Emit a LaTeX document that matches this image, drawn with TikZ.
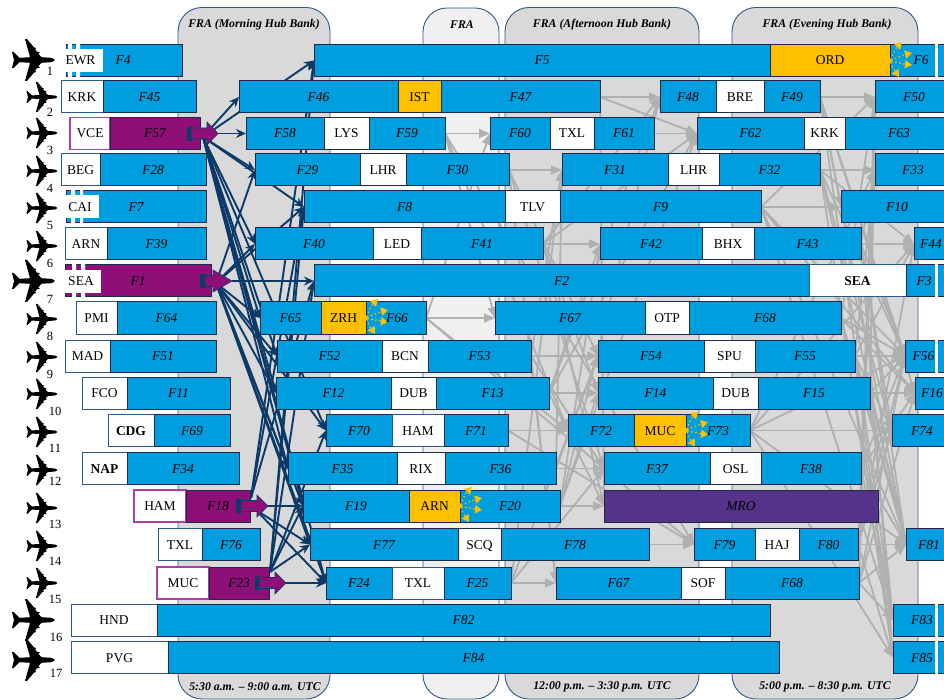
\documentclass[tikz,border=0pt]{standalone}
\usepackage{fontspec}
\setmainfont{Liberation Serif}
\usetikzlibrary{arrows.meta}
\definecolor{cblue}{HTML}{009EDF}
\definecolor{cedge}{HTML}{1B2A49}
\definecolor{cpurp}{HTML}{8F0F78}
\definecolor{cpedge}{HTML}{AD3E9E}
\definecolor{corng}{HTML}{FFC000}
\definecolor{cmro}{HTML}{55338B}
\definecolor{cnavy}{HTML}{0B3A68}
\definecolor{cband}{HTML}{D9D9D9}
\definecolor{cmid}{HTML}{F0F0F0}
\definecolor{cbedge}{HTML}{2F5A86}
\definecolor{cgrey}{HTML}{B0B0B0}
\pgfdeclarelayer{bands}
\pgfdeclarelayer{lines}
\pgfdeclarelayer{front}
\pgfdeclarelayer{toplab}
\pgfsetlayers{bands,lines,main,front,toplab}
\tikzset{
  x=1pt,y=-1pt,
  boxbase/.style={rectangle,inner sep=0pt,outer sep=0pt,minimum height=32pt,line width=1pt,
    font=\fontsize{13.5}{15}\selectfont,text height=9pt,text depth=0pt},
  bl/.style={boxbase,draw=cedge,fill=cblue,font=\fontsize{13.5}{15}\selectfont\itshape},
  wh/.style={boxbase,draw=cedge,fill=white},
  wo/.style={boxbase,draw=cbedge,fill=white},
  wp/.style={boxbase,draw=cpedge,fill=white,line width=1.2pt},
  pu/.style={bl,fill=cpurp},
  og/.style={boxbase,draw=cedge,fill=corng},
  mr/.style={bl,fill=cmro},
  lab/.style={inner sep=0pt,outer sep=0pt,font=\fontsize{13.5}{15}\selectfont,text height=9pt,text depth=0pt},
  ilab/.style={lab,font=\fontsize{13.5}{15}\selectfont\itshape},
  bandbox/.style={draw=cbedge,line width=0.9pt,rounded corners=24pt},
  bandtxt/.style={inner sep=0pt,font=\fontsize{11.8}{13}\selectfont\bfseries\itshape},
  numt/.style={inner sep=0pt,font=\fontsize{12.5}{14}\selectfont},
  nv/.style={draw=cnavy,line width=1.9pt,-{Stealth[length=10pt,width=9pt]}},
  gy/.style={draw=cgrey,line width=1.8pt,-{Triangle[length=11pt,width=9pt]}},
  burstl/.style={draw=corng,line width=1.9pt,line cap=round,dash pattern=on 0pt off 4pt,-{Triangle[length=7pt,width=8pt]}}
}
\newcommand\seg[6]{%
  \pgfmathsetmacro\wdd{#4-#3}\pgfmathsetmacro\cxx{(#3+#4)/2}%
  \node[#1,minimum width=\wdd pt] (#2) at (\cxx,#5) {#6};}
\newcommand\gap[1]{\fill[white] (935,#1-17.5) rectangle (938,#1+17.5);}
\newcommand\planeat[3]{%
  \fill[black,shift={(#1,#2)},scale=#3]
   (21.5,0) .. controls (20,-2) and (18,-2.4) .. (14,-2.4) -- (8,-2.8) -- (4.6,-6.6) -- (6,-7) -- (6,-8) -- (3.8,-8) -- (1.4,-11) -- (2.4,-11.4) -- (2.4,-12.4) -- (0.6,-12.4)
   -- (-6.5,-21) -- (-8.5,-21) -- (-3.5,-2.8) -- (-14,-2.2) -- (-20,-8) -- (-21.5,-8) -- (-19.5,0)
   -- (-21.5,8) -- (-20,8) -- (-14,2.2) -- (-3.5,2.8) -- (-8.5,21) -- (-6.5,21) -- (0.6,12.4) -- (2.4,12.4) -- (2.4,11.4) -- (1.4,11) -- (3.8,8) -- (6,8) -- (6,7) -- (4.6,6.6) -- (8,2.8)
   -- (14,2.4) .. controls (18,2.4) and (20,2) .. (21.5,0) -- cycle;}
\newcommand\burst[2]{%
  \draw[burstl,shift={(#1,#2)}] (1,-2) .. controls (3,-8) and (6,-13) .. (12,-19);
  \draw[burstl,shift={(#1,#2)}] (2,-1) .. controls (7,-3) and (13,-6) .. (22,-8);
  \draw[burstl,shift={(#1,#2)}] (2,1) .. controls (7,1) and (13,3) .. (22,4);
  \draw[burstl,shift={(#1,#2)}] (1,2) .. controls (2,6) and (5,10) .. (9,16);
  \fill[corng,shift={(#1,#2)}] (0,0) circle (2pt);}
\newcommand\blockarrow[6]{% dark-start, body-start, head-start, tip, y, half-head
  \fill[cnavy,draw=cnavy] (#1,#5-6.5) rectangle (#2,#5+6.5);
  \fill[cpurp,draw=cnavy,line width=0.6pt] (#2,#5-5.5) -- (#3,#5-5.5) -- (#3,#5-#6) -- (#4,#5) -- (#3,#5+#6) -- (#3,#5+5.5) -- (#2,#5+5.5) -- cycle;}
\begin{document}
\begin{tikzpicture}
\useasboundingbox (0,0) rectangle (944,700);
% bands
\begin{pgfonlayer}{bands}
\fill[white] (0,0) rectangle (944,700);
\draw[bandbox,fill=cband] (178,7.5) rectangle (330,699);
\draw[bandbox,fill=cmid]  (423,8) rectangle (499,699);
\draw[bandbox,fill=cband] (505,7.5) rectangle (699,699);
\draw[bandbox,fill=cband] (732,7.5) rectangle (918,699);
\end{pgfonlayer}
\node[bandtxt] (h1) at (254,24.5) {FRA (Morning Hub Bank)};
\node[bandtxt] (h2) at (462,24.5) {FRA};
\node[bandtxt] (h3) at (602,24.5) {FRA (Afternoon Hub Bank)};
\node[bandtxt] (h4) at (827,24.5) {FRA (Evening Hub Bank)};
\node[bandtxt] (b1) at (255,687) {5:30 a.m. – 9:00 a.m. UTC};
\node[bandtxt] (b3) at (602,687) {12:00 p.m. – 3:30 p.m. UTC};
\node[bandtxt] (b4) at (825,687) {5:00 p.m. – 8:30 p.m. UTC};
% planes
\planeat{33.5}{60}{1}\planeat{42}{97}{.72}\planeat{42}{133}{.72}\planeat{42}{171}{.72}\planeat{42}{208}{.72}
\planeat{42}{246}{.72}\planeat{33.5}{281}{1}\planeat{42}{319}{.72}\planeat{42}{357}{.72}\planeat{42}{394}{.72}
\planeat{42}{432}{.72}\planeat{42}{470}{.72}\planeat{42}{508}{.72}\planeat{42}{546}{.72}\planeat{42}{583}{.72}
\planeat{33.5}{620}{1}\planeat{33.5}{660}{1}
\foreach \n/\xx/\yy in {1/50/71,2/50/112,3/50/150,4/50/188,5/50/225,6/50/263,7/50/299,8/50/336,9/50/374,10/55/411,11/55/448,12/55/481,13/55/524,14/55/561,15/55/599,16/56/637,17/56/673}
  \node[numt] (n\n) at (\xx,\yy) {\n};
% row 1
\seg{bl}{F4}{66}{182}{60.5}{}
\fill[white] (68,43) rectangle (72,77) (76,43) rectangle (80,77);
\fill[white] (65,49) rectangle (103,72);
\node[lab] (EWR) at (80.5,60.5) {EWR};
\node[ilab] (F4t) at (123,60.5) {F4};
\seg{bl}{F5}{314}{770}{60.5}{F5}
\seg{og}{ORD}{770}{890}{60.5}{ORD}
\seg{bl}{F6}{890}{944}{60.5}{}
\gap{60.5}
% row 2
\seg{wo}{KRKa}{61}{103}{97}{KRK}
\seg{bl}{F45}{103}{196}{97}{F45}
\seg{bl}{F46}{239}{398}{97}{F46}
\seg{og}{IST}{398}{441}{97}{IST}
\seg{bl}{F47}{441}{600}{97}{F47}
\seg{bl}{F48}{660}{716}{97}{F48}
\seg{wh}{BRE}{716}{764}{97}{BRE}
\seg{bl}{F49}{764}{820}{97}{F49}
\seg{bl}{F50}{875}{944}{97}{}
\node[ilab] (F50t) at (914,97) {F50};
% row 3
\seg{wp}{VCE}{70}{110}{133.5}{VCE}
\seg{pu}{F57}{110}{200}{133.5}{F57}
\seg{bl}{F58}{246}{324}{133.5}{F58}
\seg{wh}{LYS}{324}{369}{133.5}{LYS}
\seg{bl}{F59}{369}{445}{133.5}{F59}
\seg{bl}{F60}{490}{550}{133.5}{F60}
\seg{wh}{TXLa}{550}{594}{133.5}{TXL}
\seg{bl}{F61}{594}{654}{133.5}{F61}
\seg{bl}{F62}{697}{804}{133.5}{F62}
\seg{wh}{KRKb}{804}{845}{133.5}{KRK}
\seg{bl}{F63}{845}{944}{133.5}{}
\node[ilab] (F63t) at (899,133.5) {F63};
% row 4
\seg{wo}{BEG}{61}{100}{170}{BEG}
\seg{bl}{F28}{100}{206}{170}{F28}
\seg{bl}{F29}{255}{360}{170}{F29}
\seg{wh}{LHRa}{360}{406}{170}{LHR}
\seg{bl}{F30}{406}{509}{170}{F30}
\seg{bl}{F31}{562}{668}{170}{F31}
\seg{wh}{LHRb}{668}{719}{170}{LHR}
\seg{bl}{F32}{719}{820}{170}{F32}
\seg{bl}{F33}{875}{944}{170}{}
\node[ilab] (F33t) at (913,170) {F33};
% row 5
\seg{bl}{F7}{66}{206}{207}{}
\fill[white] (71,190) rectangle (75,224) (80,190) rectangle (83,224);
\fill[white] (65,195) rectangle (99,218);
\node[lab] (CAI) at (80,207) {CAI};
\node[ilab] (F7t) at (136,207) {F7};
\seg{bl}{F8}{304}{505}{207}{F8}
\seg{wh}{TLV}{505}{560}{207}{TLV}
\seg{bl}{F9}{560}{761}{207}{F9}
\seg{bl}{F10}{841}{944}{207}{}
\node[ilab] (F10t) at (897,207) {F10};
% row 6
\seg{wo}{ARNa}{65}{107}{244}{ARN}
\seg{bl}{F39}{107}{206}{244}{F39}
\seg{bl}{F40}{255}{373}{244}{F40}
\seg{wh}{LED}{373}{421}{244}{LED}
\seg{bl}{F41}{421}{543}{244}{F41}
\seg{bl}{F42}{600}{702}{244}{F42}
\seg{wh}{BHX}{702}{754}{244}{BHX}
\seg{bl}{F43}{754}{861}{244}{F43}
\seg{bl}{F44}{914}{944}{244}{}
\node[ilab] (F44t) at (931,244) {F44};
% row 7
\seg{pu}{F1}{65}{211}{281}{}
\fill[white] (72,264) rectangle (76,298) (81,264) rectangle (85,298);
\fill[white] (64,270) rectangle (101,293);
\node[lab] (SEAa) at (81,281) {SEA};
\node[ilab] (F1t) at (138,281) {F1};
\seg{bl}{F2}{314}{809}{281}{F2}
\node[boxbase,draw=cbedge,fill=white,minimum width=97pt,font=\fontsize{13.5}{15}\selectfont\bfseries] (SEAb) at (857.5,281) {SEA};
\seg{bl}{F3}{906}{944}{281}{}
\gap{281}
\node[ilab] (F3t) at (924,281) {F3};
% row 8
\seg{wo}{PMI}{76}{117}{318}{PMI}
\seg{bl}{F64}{117}{216}{318}{F64}
\seg{bl}{F65}{260}{321}{318}{F65}
\seg{og}{ZRH}{321}{366}{318}{ZRH}
\seg{bl}{F66}{366}{426}{318}{}
\seg{bl}{F67}{495}{645}{318}{F67}
\seg{wh}{OTP}{645}{689}{318}{OTP}
\seg{bl}{F68}{689}{841}{318}{F68}
% row 9
\seg{wo}{MAD}{65}{110}{356}{MAD}
\seg{bl}{F51}{110}{216}{356}{F51}
\seg{bl}{F52}{277}{382}{356}{F52}
\seg{wh}{BCN}{382}{428}{356}{BCN}
\seg{bl}{F53}{428}{531}{356}{F53}
\seg{bl}{F54}{598}{704}{356}{F54}
\seg{wh}{SPU}{704}{755}{356}{SPU}
\seg{bl}{F55}{755}{855}{356}{F55}
\seg{bl}{F56}{905}{944}{356}{}
\gap{356}
\node[ilab] (F56t) at (923.5,356) {F56};
% row 10
\seg{wo}{FCO}{82}{127}{393}{FCO}
\seg{bl}{F11}{127}{230}{393}{F11}
\seg{bl}{F12}{276}{391}{393}{F12}
\seg{wh}{DUBa}{391}{436}{393}{DUB}
\seg{bl}{F13}{436}{549}{393}{F13}
\seg{bl}{F14}{598}{713}{393}{F14}
\seg{wh}{DUBb}{713}{758}{393}{DUB}
\seg{bl}{F15}{758}{870}{393}{F15}
\seg{bl}{F16}{915}{944}{393}{}
\node[ilab] (F16t) at (932,393) {F16};
% row 11
\node[boxbase,draw=cbedge,fill=white,minimum width=46pt,font=\fontsize{13.5}{15}\selectfont\bfseries] (CDG) at (131,430.5) {CDG};
\seg{bl}{F69}{154}{230}{430.5}{F69}
\seg{bl}{F70}{326}{392}{430.5}{F70}
\seg{wo}{HAMa}{392}{444}{430.5}{HAM}
\seg{bl}{F71}{444}{508}{430.5}{F71}
\seg{bl}{F72}{568}{634}{430.5}{F72}
\seg{og}{MUCa}{634}{686}{430.5}{MUC}
\seg{bl}{F73}{686}{750}{430.5}{}
\seg{bl}{F74}{892}{944}{430.5}{}
\node[ilab] (F74t) at (922,430.5) {F74};
% row 12
\node[boxbase,draw=cbedge,fill=white,minimum width=45pt,font=\fontsize{13.5}{15}\selectfont\bfseries] (NAP) at (104.5,468.5) {NAP};
\seg{bl}{F34}{127}{239}{468.5}{F34}
\seg{bl}{F35}{288}{397}{468.5}{F35}
\seg{wh}{RIX}{397}{445}{468.5}{RIX}
\seg{bl}{F36}{445}{556}{468.5}{F36}
\seg{bl}{F37}{604}{710}{468.5}{F37}
\seg{wh}{OSL}{710}{761}{468.5}{OSL}
\seg{bl}{F38}{761}{861}{468.5}{F38}
% row 13
\seg{wp}{HAMb}{134}{186}{506}{HAM}
\seg{pu}{F18}{186}{250}{506}{F18}
\seg{bl}{F19}{303}{409}{506}{F19}
\seg{og}{ARNb}{409}{460}{506}{ARN}
\seg{bl}{F20}{460}{560}{506}{F20}
\seg{mr}{MRO}{604}{878}{506}{MRO}
% row 14
\seg{wo}{TXLb}{158}{202}{544.5}{TXL}
\seg{bl}{F76}{202}{260}{544.5}{F76}
\seg{bl}{F77}{310}{458}{544.5}{F77}
\seg{wh}{SCQ}{458}{501}{544.5}{SCQ}
\seg{bl}{F78}{501}{649}{544.5}{F78}
\seg{bl}{F79}{694}{755}{544.5}{F79}
\seg{wh}{HAJ}{755}{799}{544.5}{HAJ}
\seg{bl}{F80}{799}{858}{544.5}{F80}
\seg{bl}{F81}{906}{944}{544.5}{}
\node[ilab] (F81t) at (929,544.5) {F81};
% row 15
\seg{wp}{MUCb}{157}{209}{583}{MUC}
\seg{pu}{F23}{209}{269}{583}{F23}
\seg{bl}{F24}{326}{392}{583}{F24}
\seg{wo}{TXLc}{392}{444}{583}{TXL}
\seg{bl}{F25}{444}{511}{583}{F25}
\seg{bl}{F67b}{556}{681}{583}{F67}
\seg{wh}{SOF}{681}{725}{583}{SOF}
\seg{bl}{F68b}{725}{859}{583}{F68}
% row 16
\seg{wo}{HND}{71}{157}{620}{HND}
\seg{bl}{F82}{157}{770}{620}{F82}
\seg{bl}{F83}{893}{944}{620}{}
\gap{620}
\node[ilab] (F83t) at (922,620) {F83};
% row 17
\seg{wo}{PVG}{71}{168}{657.5}{PVG}
\seg{bl}{F84}{168}{779}{657.5}{F84}
\seg{bl}{F85}{893}{944}{657.5}{}
\gap{657.5}
\node[ilab] (F85t) at (922,657.5) {F85};
% free ends of the navy connectors
\coordinate (oA) at (203,137);
\coordinate (oAh) at (218,133.5);
\coordinate (oB) at (216,283);
\coordinate (oBh) at (232,281);
\coordinate (oC) at (251,498);
\coordinate (oCd) at (256,510);
\coordinate (oCh) at (268,506);
\coordinate (oD) at (270,572);
\coordinate (oDh) at (286,583);
\begin{pgfonlayer}{lines}
% grey connectors: same-row pairs plus a thinned fan
\foreach \a [count=\i] in {F47,F59,F30,F41,F66,F53,F13,F71,F36,F20,F78,F25}{
 \foreach \b [count=\j] in {F48,F60,F31,F42,F67,F54,F14,F72,F37,MRO,F79,F67b,F62}{
  \pgfpointanchor{\a}{east}\pgfgetlastxy{\xa}{\ya}%
  \pgfpointanchor{\b}{west}\pgfgetlastxy{\xb}{\yb}%
  \pgfmathtruncatemacro\keep{(\i==\j)||(mod(\i+2*\j,3)==0)?1:0}%
  \ifnum\keep=1 \ifdim\xa<\xb \draw[gy] (\a.east) -- (\b.west);\fi\fi
 }}
\draw[gy] (F61.east) -- (F62.west);
\foreach \a [count=\i] in {F49,F32,F9,F43,F68,F55,F15,F73,F38,F80,F68b}{
 \foreach \b [count=\j] in {F50,F33,F10,F44,F56,F56,F16,F74,F81,F81,F83,F85}{
  \pgfpointanchor{\a}{east}\pgfgetlastxy{\xa}{\ya}%
  \pgfpointanchor{\b}{west}\pgfgetlastxy{\xb}{\yb}%
  \pgfmathtruncatemacro\keep{(\i==\j)||(mod(\i+\j,2)==0)?1:0}%
  \ifnum\keep=1 \ifdim\xa<\xb \draw[gy] (\a.east) -- (\b.west);\fi\fi
 }}
% navy connectors
\foreach \t in {F5,F46,F29,F8,F40,F65,F52,F12,F70,F35,F19,F24}{\draw[nv] (oA) -- (\t.west);}
\draw[nv] (oAh) -- (F58.west);
\foreach \t in {F29,F8,F40,F65,F52,F12,F70,F35,F19,F77,F24}{\draw[nv] (oB) -- (\t.west);}
\draw[nv] (oBh) -- (F2.west);
\foreach \t in {F5,F8,F2}{\draw[nv] (oC) -- (\t.west);}
\foreach \t in {F77,F24}{\draw[nv] (oCd) -- (\t.west);}
\draw[nv] (oCh) -- (F19.west);
\foreach \t in {F5,F8,F2,F70,F19,F77}{\draw[nv] (oD) -- (\t.west);}
\draw[nv] (oDh) -- (F24.west);
\end{pgfonlayer}
\begin{pgfonlayer}{front}
\blockarrow{187}{191}{207}{218}{133.5}{11.5}
\blockarrow{200}{205}{213}{232}{281}{11}
\blockarrow{236}{241}{257}{268}{506}{11}
\blockarrow{255}{259}{275}{286}{583}{11}
\burst{366}{318}
\burst{890}{61}
\burst{686}{430.5}
\burst{460}{506}
\end{pgfonlayer}
\begin{pgfonlayer}{toplab}
\node[ilab] (F6t) at (921,60.5) {F6};
\node[ilab] (F66t) at (397,318) {F66};
\node[ilab] (F73t) at (718,430.5) {F73};
\end{pgfonlayer}
\end{tikzpicture}
\end{document}
